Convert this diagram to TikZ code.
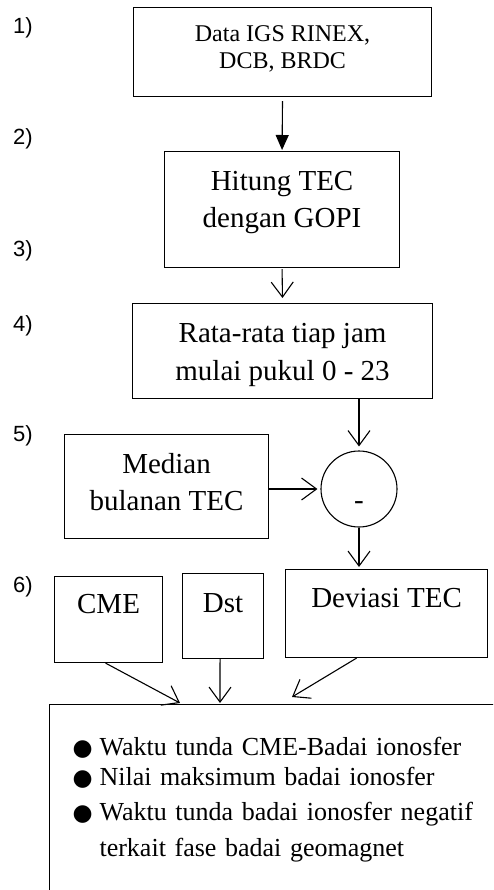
\documentclass[tikz,border=0pt]{standalone}
\usepackage{fontspec}
\setmainfont{Liberation Serif}
\newfontfamily\numfont{Liberation Sans}
\newfontfamily\symfont{DejaVu Sans}
\usetikzlibrary{arrows.meta}
\newcommand\listdot{\makebox[27pt][l]{\symfont\fontsize{23}{30}\selectfont ●}}

\begin{document}
\begin{tikzpicture}[x=1pt, y=-1pt,
    box/.style={draw, line width=1.1pt, anchor=north west, inner sep=0pt, align=center, font=\fontsize{29}{37}\selectfont},
    numlabel/.style={font=\numfont\fontsize{22}{26}\selectfont},
    arr/.style={line width=1.1pt, -{Straight Barb[length=15pt,width=22pt]}},
    arrfill/.style={line width=1.1pt, -{Triangle[length=15pt,width=13pt]}}]
    \useasboundingbox (0,0) rectangle (493,890);
    \clip (0,0) rectangle (493,890);

    % Step numbers
    \foreach \k/\y in {1/28, 2/139, 3/251, 4/326, 5/436, 6/587} {
        \node[numlabel] (n\k) at (23,\y) {\k)};
    }

    % Boxes of the flow
    \node[box, minimum width=298pt, text height=61pt, text depth=28pt, font=\fontsize{24}{27}\selectfont] (data) at (133,7) {Data IGS RINEX,\\DCB, BRDC};
    \node[box, minimum width=235pt, text height=75.6pt, text depth=40.4pt] (hitung) at (164,151) {Hitung TEC\\dengan GOPI};
    \node[box, minimum width=300pt, text height=76.6pt, text depth=18.4pt, font=\fontsize{29}{38}\selectfont] (rata) at (132,303) {Rata-rata tiap jam\\mulai pukul 0 - 23};
    \node[box, minimum width=204pt, text height=75.6pt, text depth=28.4pt] (median) at (64,434) {Median\\bulanan TEC};
    \node[box, circle, anchor=center, minimum size=76pt, text height=40pt, text depth=0pt] (minus) at (359,489) {-};
    \node[box, minimum width=108pt, text height=36.6pt, text depth=49.4pt] (cme) at (54,576) {CME};
    \node[box, minimum width=81pt, text height=38.6pt, text depth=46.4pt] (dst) at (182,573) {Dst};
    \node[box, minimum width=202pt, text height=37.6pt, text depth=50.4pt] (deviasi) at (285,569) {Deviasi TEC};

    % Result box, runs past the page edge
    \node[box, align=left, text width=420pt, inner xsep=23pt, inner ysep=0pt, text height=51pt, text depth=200pt, font=\fontsize{26}{30}\selectfont] (out) at (49,704)
        {\listdot Waktu tunda CME-Badai ionosfer\\
         \listdot Nilai maksimum badai ionosfer\\[5pt]
         \listdot Waktu tunda badai ionosfer negatif\\[6pt]
         \hspace*{27pt}terkait fase badai geomagnet};

    % Arrows
    \draw[arrfill, shorten <=4pt, shorten >=1pt] (data.south) -- (hitung.north);
    \draw[arr, shorten <=1pt, shorten >=5pt] (hitung.south) -- (rata.north);
    \draw[arr, shorten >=4pt] (minus.north |- rata.south) -- (minus.north);
    \draw[arr, shorten >=3pt] (minus.west -| median.east) -- (minus.west);
    \draw[arr, shorten >=2pt] (minus.south) -- (minus.south |- deviasi.north);
    \draw[arr] ([xshift=-3pt]cme.south) -- ([xshift=131pt, yshift=1pt]out.north west);
    \draw[arr] ([xshift=-3pt]dst.south) -- ([xshift=171pt, yshift=1pt]out.north west);
    \draw[arr] ([xshift=-30pt]deviasi.south) -- ([xshift=243pt, yshift=7pt]out.north west);
\end{tikzpicture}
\end{document}
